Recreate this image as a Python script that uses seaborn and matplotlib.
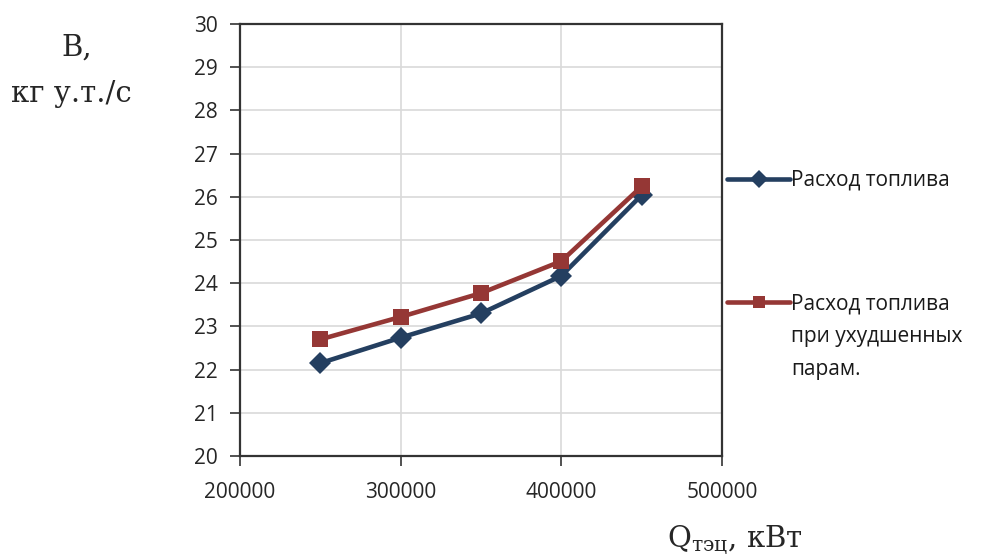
import pandas as pd
import matplotlib
matplotlib.use("Agg")
import matplotlib.pyplot as plt
import seaborn as sns

# Данные
q_tec = [250000, 300000, 350000, 400000, 450000]
rashod = [22.15, 22.74, 23.30, 24.17, 26.04]
rashod_hud = [22.70, 23.22, 23.77, 24.51, 26.24]

lbl1 = "Расход топлива"
lbl2 = "Расход топлива при ухудшенных парам."
lbl2_lines = ["Расход топлива", "при ухудшенных", "парам."]

sns.set_style("white")
plt.rcParams['font.family'] = ['Open Sans', 'DejaVu Sans']
plt.rcParams['mathtext.fontset'] = 'dejavuserif'

df = pd.DataFrame({
    'Q': q_tec * 2,
    'B': rashod + rashod_hud,
    'serie': [lbl1] * len(q_tec) + [lbl2] * len(q_tec),
})

fig = plt.figure(figsize=(9.84, 5.6), dpi=100)
ax = fig.add_axes([0.2439, 0.1857, 0.4898, 0.7714])

sns.lineplot(data=df, x='Q', y='B', hue='serie', style='serie',
             palette={lbl1: '#243F60', lbl2: '#953735'},
             markers={lbl1: 'D', lbl2: 's'}, dashes=False,
             markersize=12, linewidth=3.3, markeredgewidth=0, ax=ax)
# маркеры чуть разного размера, как в Excel
ax.get_lines()[0].set_markersize(11)

ax.set_xlim(200000, 500000)
ax.set_ylim(20, 30)
ax.set_xticks([200000, 300000, 400000, 500000])
ax.set_yticks(range(20, 31))
ax.grid(True, color='#D9D9D9', linewidth=1.2)
ax.tick_params(axis='both', direction='out', length=7, width=1.2,
               color='#333333', labelsize=15, labelcolor='#262626',
               left=True, bottom=True)
ax.tick_params(axis='y', pad=9)
ax.tick_params(axis='x', pad=12)
for sp in ax.spines.values():
    sp.set_color('#333333')
    sp.set_linewidth(1.6)
ax.set_xlabel('')
ax.set_ylabel('')

# Подписи осей
fig.text(0.078, 0.915, 'B,', fontsize=21, family='DejaVu Serif', ha='center', va='center')
fig.text(0.073, 0.833, 'кг у.т./с', fontsize=21, family='DejaVu Serif', ha='center', va='center')
fig.text(0.747, 0.035, r'$\mathrm{Q}_{\mathrm{тэц}}$, кВт', fontsize=21,
         family='DejaVu Serif', ha='center', va='center')

# Легенда: вторая подпись в три строки, маркер на уровне первой строки
handles, labels = ax.get_legend_handles_labels()
leg = ax.legend(handles, [lbl1, lbl2_lines[0]], loc='upper left',
                bbox_to_anchor=(0.981, 0.696), frameon=False,
                fontsize=15, handlelength=3.0, handletextpad=0.05,
                labelspacing=4.9, borderaxespad=0.3, labelcolor='#1a1a1a')
for h in leg.legend_handles:
    h.set_markersize(9)

fig.canvas.draw()
t2 = leg.get_texts()[1]
bb = t2.get_window_extent()
x0, y0 = fig.transFigure.inverted().transform((bb.x0, bb.y0))
for i, line in enumerate(lbl2_lines[1:], start=1):
    fig.text(x0, y0 - i * 33 / 560, line, fontsize=15, color='#1a1a1a',
             ha='left', va='bottom')

fig.savefig('out.png', dpi=100)
